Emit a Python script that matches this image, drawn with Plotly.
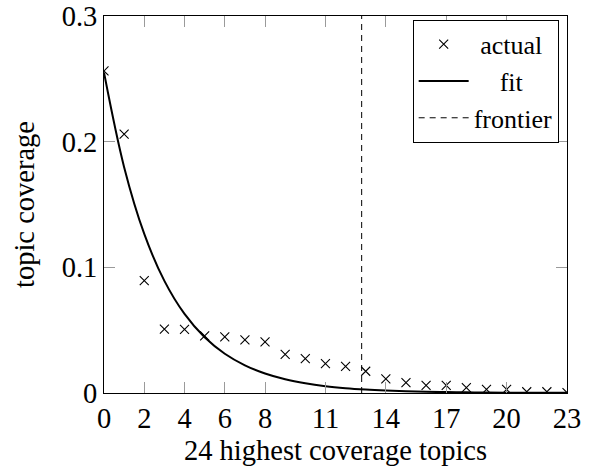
import plotly.graph_objects as go

# data
topic_index = list(range(24))
actual_coverage = [0.2563, 0.206, 0.0894, 0.0509, 0.0506, 0.0454, 0.0446, 0.0422,
                   0.0406, 0.0307, 0.0273, 0.0234, 0.0212, 0.0173, 0.0113, 0.0082,
                   0.0060, 0.0060, 0.0042, 0.0029, 0.0029, 0.0010, 0.0010, 0.0003]
fit_coverage = [0.255, 0.1797, 0.1266, 0.0892, 0.0629, 0.0443, 0.0312, 0.0220,
                0.0155, 0.0109, 0.0077, 0.0054, 0.0038, 0.0027, 0.0019, 0.0013,
                0.0009, 0.0007, 0.0005, 0.0003, 0.0002, 0.0002, 0.0001, 0.0001]
frontier_x = [12.8, 12.8]
frontier_y = [0.0, 0.3]
x_ticks = [0, 2, 4, 6, 8, 11, 14, 17, 20, 23]
y_ticks = [0, 0.1, 0.2, 0.3]
y_tick_text = ["0", "0.1", "0.2", "0.3"]
legend_names = ["\u00a0actual", "\u00a0\u00a0\u00a0\u00a0fit", "frontier"]

FONT = "Liberation Serif"
SIZE = 28.5
TICK_SIZE = 28.5
LEGEND_SIZE = 26

fig = go.Figure()
fig.add_trace(go.Scatter(
    x=topic_index, y=actual_coverage, mode="markers", name=legend_names[0],
    marker=dict(symbol="x-thin", size=9, line=dict(width=1.1, color="black"), color="black"),
))
fig.add_trace(go.Scatter(
    x=topic_index, y=fit_coverage, mode="lines", name=legend_names[1],
    line=dict(color="black", width=2, shape="spline", smoothing=1.0),
))
fig.add_trace(go.Scatter(
    x=frontier_x, y=frontier_y, mode="lines", name=legend_names[2],
    line=dict(color="black", width=1, dash="6px,5px"),
))

fig.update_layout(
    template="none",
    width=592, height=472,
    margin=dict(l=104, r=25, t=16, b=79, autoexpand=False),
    paper_bgcolor="white", plot_bgcolor="white",
    font_family=FONT, font_size=SIZE, font_color="black",
    showlegend=True,
)
fig.update_xaxes(
    range=[0, 23], tickmode="array", tickvals=x_ticks, ticktext=[str(v) for v in x_ticks],
    title_text="24 highest coverage topics", title_font_family=FONT, title_font_size=SIZE,
    title_standoff=6,
    showgrid=False, zeroline=False, showline=True, linecolor="black", linewidth=1,
    mirror="ticks", ticks="inside", ticklen=11, tickcolor="#9a9a9a", tickwidth=1,
    tickfont_family=FONT, tickfont_size=TICK_SIZE, tickfont_color="black", automargin=False,
    ticklabeloverflow="allow",
)
fig.update_yaxes(
    range=[0, 0.3], tickmode="array", tickvals=y_ticks, ticktext=y_tick_text,
    title_text="topic coverage", title_font_family=FONT, title_font_size=SIZE,
    title_standoff=18,
    showgrid=False, zeroline=False, showline=True, linecolor="black", linewidth=1,
    mirror="ticks", ticks="inside", ticklen=11, tickcolor="#9a9a9a", tickwidth=1,
    tickfont_family=FONT, tickfont_size=TICK_SIZE, tickfont_color="black", automargin=False,
    ticklabeloverflow="allow",
)
fig.update_layout(
    legend=dict(x=0.982, y=0.99, xanchor="right", yanchor="top",
                bordercolor="black", borderwidth=1, bgcolor="white",
                font=dict(family=FONT, size=LEGEND_SIZE), tracegroupgap=0, itemwidth=50),
)

fig.write_html("out.html")
